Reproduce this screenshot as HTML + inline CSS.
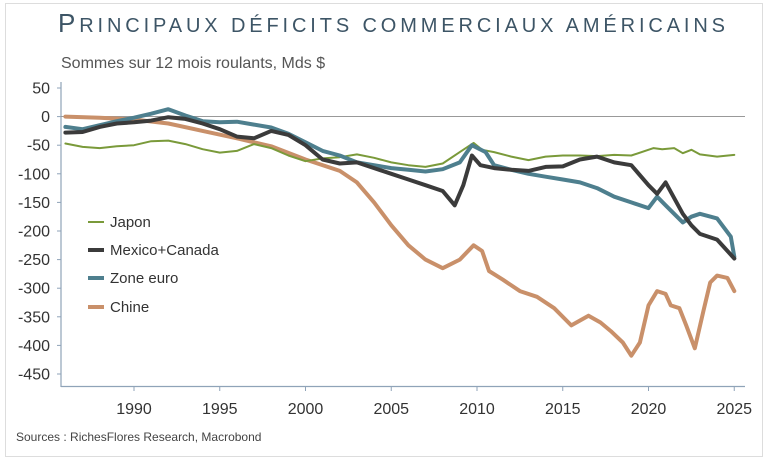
<!DOCTYPE html>
<html><head><meta charset="utf-8"><style>
body{margin:0;background:#fff;width:768px;height:462px;overflow:hidden}
svg{font-family:"Liberation Sans",sans-serif}
</style></head><body>
<svg id="s" width="768" height="462" xmlns="http://www.w3.org/2000/svg">
<rect x="5.5" y="3.5" width="757" height="453" fill="#fff" stroke="#ddd"/>
<text x="58" y="32" fill="#3d5566" textLength="667" lengthAdjust="spacing"><tspan font-size="26">P</tspan><tspan font-size="20">RINCIPAUX DÉFICITS COMMERCIAUX AMÉRICAINS</tspan></text>
<text x="61" y="68" font-size="16" fill="#555">Sommes sur 12 mois roulants, Mds $</text>
<line x1="61" y1="82" x2="61" y2="387" stroke="#8fa3b8" stroke-width="1.2"/>
<line x1="61" y1="386.5" x2="745" y2="386.5" stroke="#8fa3b8" stroke-width="1.2"/>
<line x1="61" y1="116.5" x2="745" y2="116.5" stroke="#999" stroke-width="1"/>
<g id="yl" font-size="16" fill="#333" text-anchor="end"></g>
<g id="xl" font-size="16" fill="#333" text-anchor="middle"></g>
<g id="ser" fill="none" stroke-linejoin="round" stroke-linecap="round"></g>
<g font-size="15" fill="#333">
<line x1="88" y1="222" x2="104" y2="222" stroke="#7a9a3a" stroke-width="2"/><text x="110" y="227">Japon</text>
<line x1="88" y1="250" x2="104" y2="250" stroke="#3b3b3b" stroke-width="4"/><text x="110" y="255">Mexico+Canada</text>
<line x1="88" y1="278" x2="104" y2="278" stroke="#4e7f8e" stroke-width="4"/><text x="110" y="283">Zone euro</text>
<line x1="88" y1="307" x2="104" y2="307" stroke="#c9906a" stroke-width="4"/><text x="110" y="312">Chine</text>
</g>
<text x="16" y="441" font-size="12" fill="#444">Sources : RichesFlores Research, Macrobond</text>
</svg>
<script>
var NS="http://www.w3.org/2000/svg";
function X(y){return 134+(y-1990)*17.15}
function Y(v){return 116.6-v*0.572}
var yl=document.getElementById('yl'),xl=document.getElementById('xl');
for(var v=50;v>=-450;v-=50){var t=document.createElementNS(NS,'text');t.setAttribute('x',50);t.setAttribute('y',Y(v)+5.5);t.textContent=v;yl.appendChild(t);
var l=document.createElementNS(NS,'line');l.setAttribute('x1',57);l.setAttribute('x2',61);l.setAttribute('y1',Y(v));l.setAttribute('y2',Y(v));l.setAttribute('stroke','#8fa3b8');yl.appendChild(l);}
for(var y=1990;y<=2025;y+=5){var t=document.createElementNS(NS,'text');t.setAttribute('x',X(y));t.setAttribute('y',414);t.textContent=y;xl.appendChild(t);
var l=document.createElementNS(NS,'line');l.setAttribute('x1',X(y));l.setAttribute('x2',X(y));l.setAttribute('y1',386);l.setAttribute('y2',391);l.setAttribute('stroke','#8fa3b8');xl.appendChild(l);}
var S=[
["#c9906a",4,[[1986,0],[1988,-2],[1990,-5],[1992,-12],[1994,-25],[1996,-38],[1998,-52],[2000,-75],[2002,-95],[2003,-115],[2004,-150],[2005,-190],[2006,-225],[2007,-250],[2008,-265],[2009,-250],[2009.8,-225],[2010.3,-235],[2010.7,-270],[2011.5,-285],[2012.5,-305],[2013.5,-315],[2014.5,-335],[2015.5,-365],[2016.5,-348],[2017.2,-360],[2017.8,-375],[2018.5,-395],[2019,-418],[2019.5,-395],[2020,-330],[2020.5,-305],[2021,-310],[2021.3,-330],[2021.8,-335],[2022.2,-365],[2022.7,-405],[2023.2,-340],[2023.6,-290],[2024,-278],[2024.6,-282],[2025,-305]]],
["#7a9a3a",2,[[1986,-47],[1987,-53],[1988,-55],[1989,-52],[1990,-50],[1991,-43],[1992,-42],[1993,-48],[1994,-57],[1995,-63],[1996,-60],[1997,-48],[1998,-55],[1999,-68],[2000,-78],[2001,-73],[2002,-71],[2003,-66],[2004,-72],[2005,-80],[2006,-85],[2007,-88],[2008,-82],[2009,-62],[2009.8,-46],[2010.3,-58],[2011,-62],[2012,-70],[2013,-76],[2014,-70],[2015,-68],[2016,-68],[2017,-69],[2018,-67],[2019,-68],[2020.3,-55],[2020.8,-57],[2021.5,-55],[2022,-64],[2022.5,-58],[2023,-66],[2024,-70],[2025,-67]]],
["#4e7f8e",4,[[1986,-18],[1987,-22],[1988,-15],[1989,-8],[1990,-2],[1991,5],[1992,13],[1993,2],[1994,-8],[1995,-10],[1996,-9],[1997,-14],[1998,-19],[1999,-30],[2000,-45],[2001,-60],[2002,-68],[2003,-80],[2004,-85],[2005,-90],[2006,-93],[2007,-96],[2008,-92],[2009,-80],[2009.7,-50],[2010.5,-62],[2011,-85],[2012,-93],[2013,-100],[2014,-105],[2015,-110],[2016,-115],[2017,-125],[2018,-140],[2019,-150],[2020,-160],[2020.5,-140],[2021,-155],[2022,-185],[2022.5,-175],[2023,-170],[2024,-178],[2024.8,-210],[2025,-245]]],
["#3b3b3b",4,[[1986,-28],[1987,-27],[1988,-18],[1989,-12],[1990,-10],[1991,-7],[1992,-1],[1993,-4],[1994,-12],[1995,-22],[1996,-35],[1997,-38],[1998,-25],[1999,-32],[2000,-50],[2001,-75],[2002,-82],[2003,-80],[2004,-90],[2005,-100],[2006,-110],[2007,-120],[2008,-130],[2008.7,-155],[2009.2,-120],[2009.7,-68],[2010.2,-85],[2011,-90],[2012,-93],[2013,-95],[2014,-88],[2015,-87],[2016,-75],[2017,-70],[2018,-80],[2019,-85],[2020,-120],[2020.5,-135],[2021,-115],[2022,-170],[2022.5,-190],[2023,-205],[2024,-215],[2025,-248]]]
];
var g=document.getElementById('ser');
S.forEach(function(s){var d=s[2].map(function(p,i){return (i?'L':'M')+X(p[0]).toFixed(1)+' '+Y(p[1]).toFixed(1)}).join('');
var p=document.createElementNS(NS,'path');p.setAttribute('d',d);p.setAttribute('stroke',s[0]);p.setAttribute('stroke-width',s[1]);g.appendChild(p);});
</script>
</body></html>
